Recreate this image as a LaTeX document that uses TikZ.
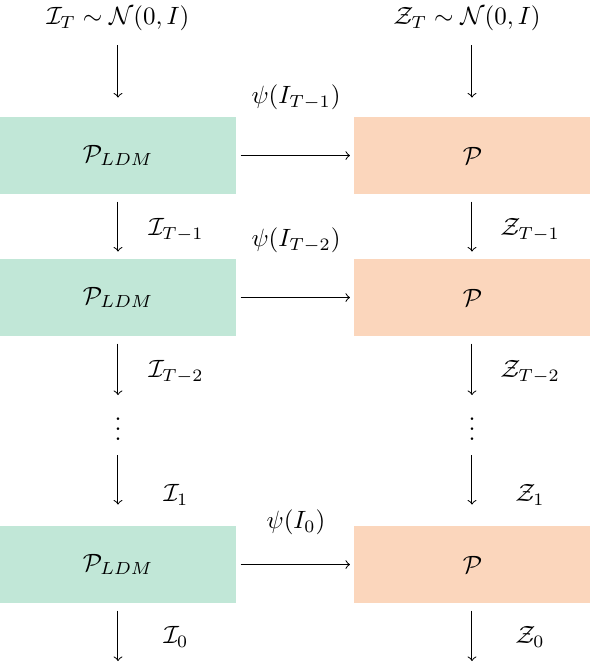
\documentclass[tikz,border=0pt]{standalone}
\usetikzlibrary{positioning}

\definecolor{ldmgreen}{HTML}{C1E7D7}
\definecolor{ppeach}{HTML}{FBD6BC}

\tikzset{
  ldmbox/.style={fill=ldmgreen, minimum width=94.4pt, minimum height=30.8pt, inner sep=0pt},
  pbox/.style={fill=ppeach, minimum width=94.4pt, minimum height=30.8pt, inner sep=0pt},
  flow/.style={->, shorten >=2.8pt, shorten <=2.8pt},
}

\begin{document}
\begin{tikzpicture}[x=0.4pt, y=-0.4pt]
    \useasboundingbox (0,0) rectangle (591,663);

    % left column
    \begin{scope}[shift={(0,0)}]
        \node (it) at (118,18) {$\mathcal{I}_T \sim \mathcal{N}(0,I)$};
        \coordinate (lt) at (118,45);
        \node[ldmbox] (l1) at (118,155.5) {$\mathcal{P}_{LDM}$};
        \node[ldmbox] (l2) at (118,297.5) {$\mathcal{P}_{LDM}$};
        \node[ldmbox] (l3) at (118,564.5) {$\mathcal{P}_{LDM}$};
        \coordinate (la) at (118,395);
        \node[inner sep=0pt, anchor=south] (ldots) at (118,441) {$\vdots$};
        \coordinate (lc) at (118,455);
        \coordinate (lb) at (118,661);

        \node (i1) at (176,230) {$\mathcal{I}_{T-1}$};
        \node (i2) at (176,372) {$\mathcal{I}_{T-2}$};
        \node (i3) at (176,495) {$\mathcal{I}_1$};
        \node (i4) at (176,637) {$\mathcal{I}_0$};

        \draw[->, shorten >=7.6pt] (lt) -- (l1);
        \draw[flow] (l1) -- (l2);
        \draw[->, shorten <=2.8pt] (l2) -- (la);
        \draw[->, shorten >=8.4pt] (lc) -- (l3);
        \draw[->, shorten <=2.8pt] (l3) -- (lb);
    \end{scope}

    % right column
    \begin{scope}[shift={(0,0)}]
        \node (zt) at (467,18) {$\mathcal{Z}_T \sim \mathcal{N}(0,I)$};
        \coordinate (rt) at (472,45);
        \node[pbox] (r1) at (472.5,155.5) {$\mathcal{P}$};
        \node[pbox] (r2) at (472.5,297.5) {$\mathcal{P}$};
        \node[pbox] (r3) at (472.5,564.5) {$\mathcal{P}$};
        \coordinate (ra) at (472,395);
        \node[inner sep=0pt, anchor=south] (rdots) at (472,441) {$\vdots$};
        \coordinate (rc) at (472,455);
        \coordinate (rb) at (472,661);

        \node (z1) at (530,230) {$\mathcal{Z}_{T-1}$};
        \node (z2) at (530,372) {$\mathcal{Z}_{T-2}$};
        \node (z3) at (530,495) {$\mathcal{Z}_1$};
        \node (z4) at (530,637) {$\mathcal{Z}_0$};

        \draw[->, shorten >=7.6pt] (rt) -- (r1.north -| rt);
        \draw[flow] (r1.south -| rt) -- (r2.north -| rt);
        \draw[->, shorten <=2.8pt] (r2.south -| ra) -- (ra);
        \draw[->, shorten >=8.4pt] (rc) -- (r3.north -| rc);
        \draw[->, shorten <=2.8pt] (r3.south -| rb) -- (rb);
    \end{scope}

    % links between the columns
    \node (g1) at (296,97) {$\psi(I_{T-1})$};
    \node (g2) at (296,240) {$\psi(I_{T-2})$};
    \node (g3) at (296,522) {$\psi(I_0)$};

    \draw[->, shorten >=1.6pt, shorten <=1.6pt] (l1) -- (r1);
    \draw[->, shorten >=1.6pt, shorten <=1.6pt] (l2) -- (r2);
    \draw[->, shorten >=1.6pt, shorten <=1.6pt] (l3) -- (r3);
\end{tikzpicture}
\end{document}
